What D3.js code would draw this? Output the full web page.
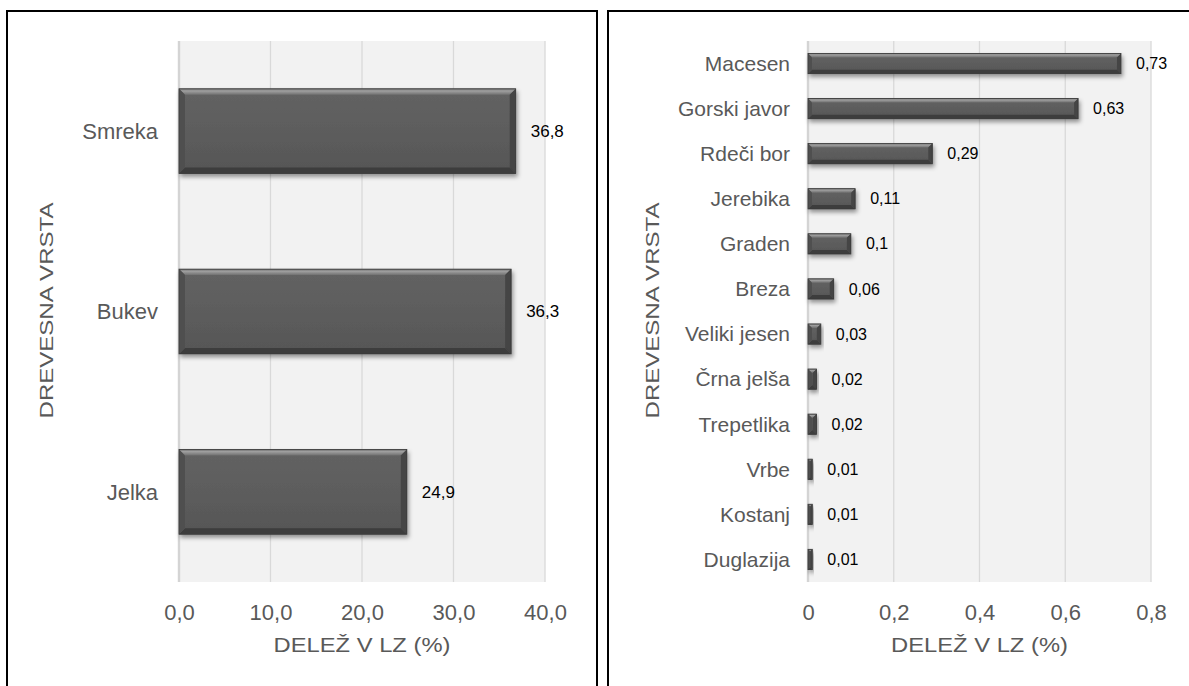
<!DOCTYPE html>
<html>
<head>
<meta charset="utf-8">
<script src="https://cdn.jsdelivr.net/npm/d3@7"></script>
<style>
  html, body { margin: 0; padding: 0; background: #fff; }
  svg text { font-family: "Liberation Sans", Arial, Helvetica, sans-serif; }
</style>
</head>
<body>
<svg id="chart" width="1189" height="686"></svg>
<script>
// Main species share in the stand (left) and the minor species (right)
const mainSpecies = ["Smreka", "Bukev", "Jelka"];
const mainShare = [36.8, 36.3, 24.9];
const mainTicks = [0, 10, 20, 30, 40];

const minorSpecies = ["Macesen", "Gorski javor", "Rdeči bor", "Jerebika", "Graden", "Breza",
  "Veliki jesen", "Črna jelša", "Trepetlika", "Vrbe", "Kostanj", "Duglazija"];
const minorShare = [0.73, 0.63, 0.29, 0.11, 0.1, 0.06, 0.03, 0.02, 0.02, 0.01, 0.01, 0.01];
const minorTicks = [0, 0.2, 0.4, 0.6, 0.8];

const xTitle = "DELEŽ V LZ (%)";
const yTitle = "DREVESNA VRSTA";

const svg = d3.select("#chart");
const defs = svg.append("defs");

defs.append("filter").attr("id", "barShadow")
  .attr("x", "-20%").attr("y", "-30%").attr("width", "140%").attr("height", "170%")
  .append("feDropShadow")
  .attr("dx", 1.5).attr("dy", 3).attr("stdDeviation", 2)
  .attr("flood-color", "#000").attr("flood-opacity", 0.4);

const faceGrad = defs.append("linearGradient").attr("id", "faceGrad")
  .attr("x1", 0).attr("y1", 0).attr("x2", 0).attr("y2", 1);
faceGrad.append("stop").attr("offset", "0%").attr("stop-color", "#636363");
faceGrad.append("stop").attr("offset", "100%").attr("stop-color", "#565656");

const topGrad = defs.append("linearGradient").attr("id", "topGrad")
  .attr("x1", 0).attr("y1", 0).attr("x2", 0).attr("y2", 1);
topGrad.append("stop").attr("offset", "0%").attr("stop-color", "#6a6a6a");
topGrad.append("stop").attr("offset", "35%").attr("stop-color", "#a0a0a0");
topGrad.append("stop").attr("offset", "100%").attr("stop-color", "#707070");

const fmt1 = d3.format(".1f");
const comma = s => s.replace(".", ",");

// squeeze/stretch a text element along its baseline to a given length
function fitLength(sel, len) {
  const node = sel.node();
  const w = node.getComputedTextLength();
  const k = len / w;
  const base = sel.attr("data-base") || "";
  sel.attr("transform", `${base} scale(${k},1)`);
}

function panel(cfg) {
  const g = svg.append("g");

  // panel frame (open at the bottom edge of the page)
  g.append("path")
    .attr("d", `M${cfg.frame[0]},700 V${cfg.frame[1]} H${cfg.frame[2]} V700`)
    .attr("fill", "none").attr("stroke", "#000").attr("stroke-width", 2);

  const x = d3.scaleLinear().domain(cfg.domain).range([cfg.left, cfg.right]);
  const y = d3.scaleBand().domain(cfg.cats).range([cfg.top, cfg.bottom])
    .paddingInner(cfg.pad).paddingOuter(cfg.pad / 2);

  // plot area
  g.append("rect")
    .attr("x", cfg.left).attr("y", cfg.top)
    .attr("width", cfg.right - cfg.left).attr("height", cfg.bottom - cfg.top)
    .attr("fill", "#f2f2f2");

  // vertical gridlines
  g.selectAll(".grid").data(cfg.ticks.slice(1)).join("line")
    .attr("x1", d => x(d)).attr("x2", d => x(d))
    .attr("y1", cfg.top).attr("y2", cfg.bottom)
    .attr("stroke", "#d9d9d9").attr("stroke-width", 1.3);

  // category axis line
  g.append("line")
    .attr("x1", x(0)).attr("x2", x(0))
    .attr("y1", cfg.top).attr("y2", cfg.bottom)
    .attr("stroke", "#d4d4d4").attr("stroke-width", 2.4);

  // value axis tick labels
  const xAxis = d3.axisBottom(x).tickValues(cfg.ticks).tickFormat(cfg.tickFmt).tickSize(0).tickPadding(0);
  const ax = g.append("g").attr("transform", `translate(0,${cfg.tickY})`).call(xAxis);
  ax.select(".domain").remove();
  ax.selectAll("text")
    .attr("dy", "0.35em").attr("y", 0)
    .attr("font-size", cfg.tickSize).attr("fill", "#595959")
    .style("font-family", "'Liberation Sans', Arial, sans-serif");

  // category labels
  const yAxis = d3.axisLeft(y).tickSize(0).tickPadding(0);
  const ay = g.append("g").attr("transform", `translate(${cfg.catX},0)`).call(yAxis);
  ay.select(".domain").remove();
  ay.selectAll("text")
    .attr("x", 0).attr("dy", "0.35em")
    .attr("font-size", cfg.catSize).attr("fill", "#595959")
    .style("font-family", "'Liberation Sans', Arial, sans-serif");

  // bevelled bars
  const data = cfg.cats.map((c, i) => ({ c, v: cfg.vals[i] }));
  const bars = g.selectAll(".bar").data(data).join("g").attr("class", "bar")
    .attr("filter", "url(#barShadow)");

  bars.each(function (d) {
    const bg = d3.select(this);
    const x0 = x(0), x1 = x(d.v), y0 = y(d.c), y1 = y0 + y.bandwidth();
    const w = x1 - x0, h = y1 - y0;
    const b = Math.min(cfg.bevel, w / 2, h / 3);
    bg.append("rect").attr("x", x0).attr("y", y0).attr("width", w).attr("height", h)
      .attr("fill", "url(#faceGrad)");
    const poly = (pts, fill) => bg.append("polygon")
      .attr("points", pts.map(p => p.join(",")).join(" ")).attr("fill", fill);
    poly([[x0, y0], [x1, y0], [x1 - b, y0 + b], [x0 + b, y0 + b]], "url(#topGrad)");
    poly([[x0, y1], [x1, y1], [x1 - b, y1 - b], [x0 + b, y1 - b]], "#3d3d3d");
    poly([[x0, y0], [x0 + b, y0 + b], [x0 + b, y1 - b], [x0, y1]], "#505050");
    poly([[x1, y0], [x1 - b, y0 + b], [x1 - b, y1 - b], [x1, y1]], "#444444");
    bg.append("rect").attr("x", x0).attr("y", y0).attr("width", w).attr("height", h)
      .attr("fill", "none").attr("stroke", "#3a3a3a").attr("stroke-width", 0.8);
  });

  // value labels
  g.selectAll(".val").data(data).join("text")
    .attr("x", d => x(d.v) + cfg.valGap)
    .attr("y", d => y(d.c) + y.bandwidth() / 2)
    .attr("dy", "0.35em")
    .attr("font-size", cfg.valSize).attr("fill", "#000")
    .text(d => cfg.valFmt(d.v));

  // axis titles
  const cx = (cfg.left + cfg.right) / 2;
  const xt = g.append("text")
    .attr("data-base", `translate(${cx},${cfg.xTitleY})`)
    .attr("dy", "0.35em")
    .attr("text-anchor", "middle").attr("font-size", 21).attr("fill", "#595959")
    .text(xTitle);
  fitLength(xt, 177);

  const yt = g.append("text")
    .attr("data-base", `translate(${cfg.yTitleX},${(cfg.top + cfg.bottom) / 2 - 1}) rotate(-90)`)
    .attr("dy", "0.35em")
    .attr("text-anchor", "middle").attr("font-size", 17.5).attr("fill", "#595959")
    .text(yTitle);
  fitLength(yt, 216);
}

panel({
  frame: [7, 11, 597],
  cats: mainSpecies, vals: mainShare, ticks: mainTicks, domain: [0, 40],
  left: 179, right: 545, top: 41, bottom: 582, pad: 0.53,
  tickY: 612, tickSize: 22, tickFmt: d => comma(fmt1(d)),
  catX: 158, catSize: 22,
  bevel: 6, valGap: 15, valSize: 17, valFmt: v => comma(String(v)),
  xTitleY: 645, yTitleX: 47
});

panel({
  frame: [608, 11, 1200],
  cats: minorSpecies, vals: minorShare, ticks: minorTicks, domain: [0, 0.8],
  left: 808, right: 1151, top: 41, bottom: 582, pad: 0.55,
  tickY: 612, tickSize: 22, tickFmt: d => comma(String(d)),
  catX: 790, catSize: 21,
  bevel: 4, valGap: 15, valSize: 16, valFmt: v => comma(String(v)),
  xTitleY: 645, yTitleX: 653
});
</script>
</body>
</html>
